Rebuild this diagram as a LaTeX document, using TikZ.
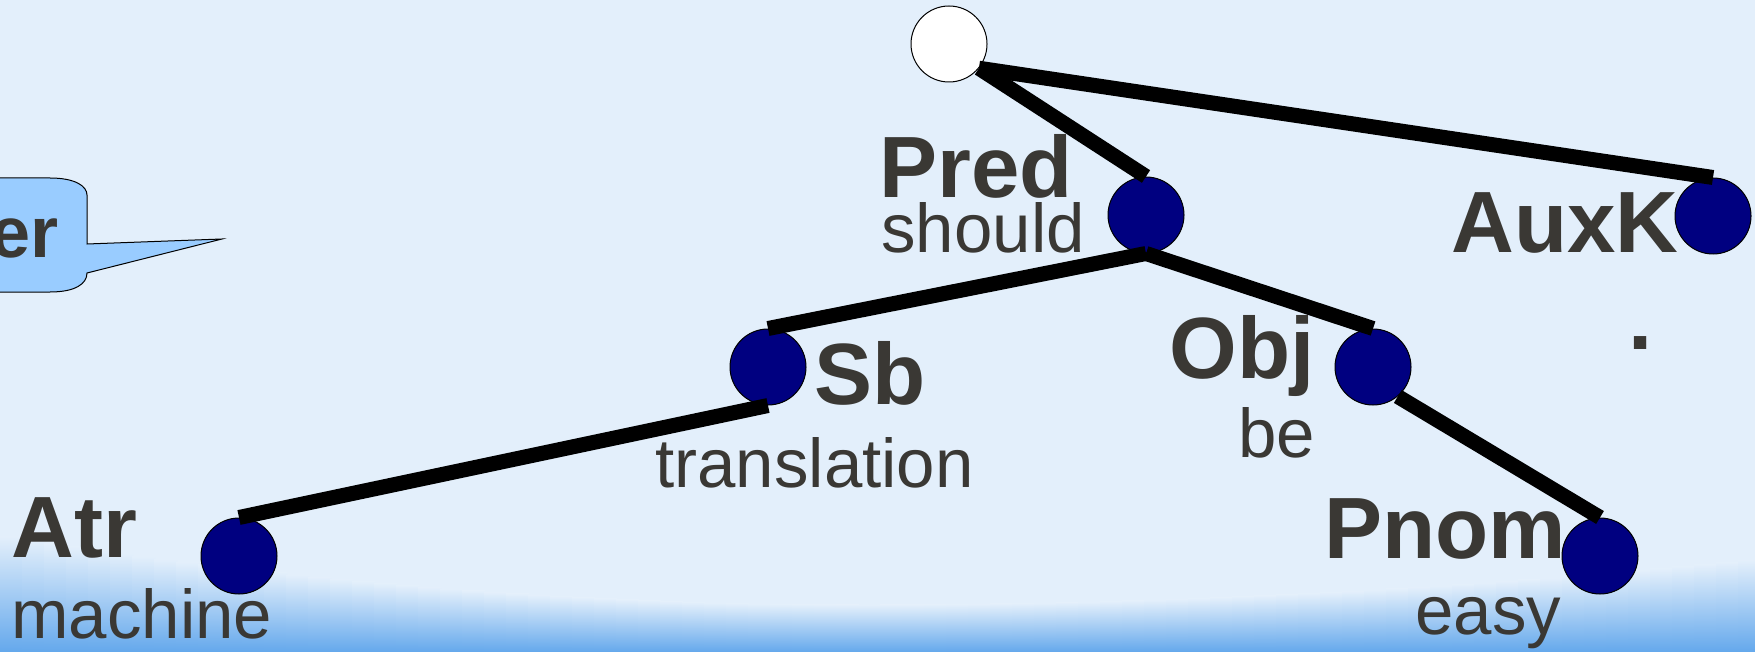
\documentclass[tikz,border=0pt]{standalone}
\usepackage{fontspec}
\setmainfont{Liberation Sans}
\definecolor{bg}{RGB}{227,239,251}
\definecolor{bandblue}{RGB}{100,168,236}
\definecolor{navyfill}{RGB}{0,0,128}
\definecolor{calloutfill}{RGB}{153,204,255}
\definecolor{txt}{RGB}{58,56,52}
\begin{document}
\begin{tikzpicture}[x=0.5pt,y=-0.5pt,
  treenode/.style={circle, draw=black, line width=0.5pt, fill=navyfill, minimum size=38pt, inner sep=0pt},
  rootnode/.style={treenode, fill=white},
  edgeline/.style={line width=7.5pt, black},
  lbl/.style={text=txt, font=\fontsize{43.5}{43.5}\selectfont\bfseries, inner sep=0pt, anchor=base west},
  wrd/.style={text=txt, font=\fontsize{34.5}{34.5}\selectfont, inner sep=0pt, anchor=base west},
  callout/.style={fill=calloutfill, draw=black, line width=0.5pt}
]
\useasboundingbox (0,0) rectangle (1755,652);
\fill[bg] (0,0) rectangle (1755,652);
% bottom blue band
\foreach \i in {0,...,79}{
  \pgfmathsetmacro{\xa}{\i*22}
  \pgfmathsetmacro{\xm}{\xa+11}
  \pgfmathsetmacro{\ty}{\xm<860 ? 605-70*((\xm-860)/860)^2 : 605-45*((\xm-860)/895)^2}
  \shade[top color=bg, bottom color=bandblue] (\xa,\ty) rectangle ({\xa+23},652);
}
% callout
\path[callout] (-30,178) -- (50,178) .. controls (75,178) and (87,186) .. (87,195)
  -- (87,244) -- (222,239) -- (87,273)
  .. controls (87,284) and (75,292) .. (50,292) -- (-30,292) -- cycle;
\node[text=txt, font=\fontsize{36}{36}\selectfont\bfseries, inner sep=0pt, anchor=base east] (calltext) at (59,257) {er};

% tree nodes
\node[rootnode] (root) at (949,44) {};
\node[treenode] (pred) at (1146,215) {};
\node[treenode] (auxk) at (1713,216) {};
\node[treenode] (sb) at (768,367) {};
\node[treenode] (obj) at (1373,367) {};
\node[treenode] (atr) at (239,556) {};
\node[treenode] (pnom) at (1600,556) {};

% edges
\draw[edgeline] (root.-39) -- (pred.north);
\draw[edgeline] (root.-39) -- (auxk.north);
\draw[edgeline] (pred.south) -- (sb.north);
\draw[edgeline] (pred.south) -- (obj.north);
\draw[edgeline] (sb.south) -- (atr.north);
\draw[edgeline] (obj.-50) -- (pnom.north);

% labels
\node[lbl] (predl) at (879,198) {Pred};
\node[wrd] (predw) at (881,253) {should};
\node[lbl] (auxkl) at (1451,253) {AuxK};
\node[lbl] (auxkw) at (1628,349) {.};
\node[lbl] (sbl) at (814,404) {Sb};
\node[wrd] (sbw) at (655,487) {translation};
\node[lbl] (objl) at (1169,378) {Obj};
\node[wrd] (objw) at (1238,457) {be};
\node[lbl] (atrl) at (11,557) {Atr};
\node[wrd] (atrw) at (11,638) {machine};
\node[lbl] (pnoml) at (1324,558) {Pnom};
\node[wrd] (pnomw) at (1415,634) {easy};
\end{tikzpicture}
\end{document}
